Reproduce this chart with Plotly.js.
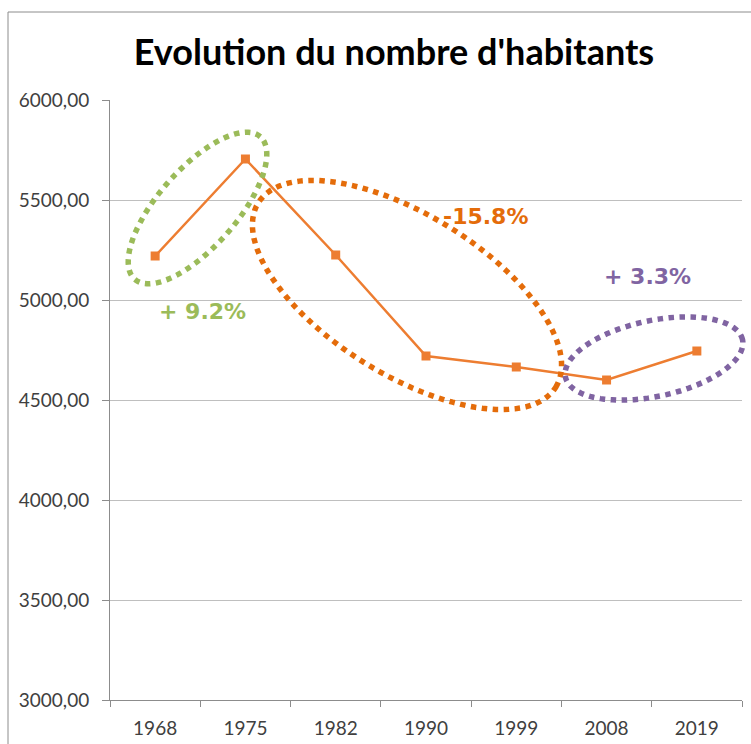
<!DOCTYPE html>
<html>
<head>
<meta charset="utf-8">
<script src="https://cdn.plot.ly/plotly-3.0.1.min.js"></script>
<style>
  body { margin: 0; background: #fff; }
  #chart { width: 751px; height: 744px; }
</style>
</head>
<body>
<div id="chart"></div>
<script>
// data
var years = ['1968', '1975', '1982', '1990', '1999', '2008', '2019'];
var habitants = [5220, 5705, 5225, 4720, 4665, 4600, 4745];

// callout labels
var noteTexts = ['+ 9.2%', '-15.8%', '+ 3.3%'];
var noteColors = ['#9BBB59', '#E46C0A', '#8064A2'];

// plot area in pixels (used to place the dotted ellipses and labels)
var W = 751, H = 744;
var plotL = 110, plotR = 742, plotT = 100, plotB = 700;

function px2paperX(px) { return (px - plotL) / (plotR - plotL); }
function px2paperY(py) { return (plotB - py) / (plotB - plotT); }

// ellipse: centre x, centre y, half axes, tilt (deg, counterclockwise)
var ellipses = [
  { cx: 197.5, cy: 208, a: 95, b: 39, tilt: 48.6 },
  { cx: 407, cy: 295, a: 175, b: 80, tilt: -31.8 },
  { cx: 654, cy: 358.5, a: 90.5, b: 38, tilt: 11.9 }
];
var notePos = [[202, 311], [485, 216], [647, 276]];

function ellipsePath(e) {
  var t = e.tilt * Math.PI / 180, d = '';
  for (var k = 0; k <= 120; k++) {
    var u = k / 120 * 2 * Math.PI;
    var ex = e.a * Math.cos(u), ey = e.b * Math.sin(u);
    var x = e.cx + ex * Math.cos(t) - ey * Math.sin(t);
    var y = e.cy - (ex * Math.sin(t) + ey * Math.cos(t));
    d += (k === 0 ? 'M' : 'L') + px2paperX(x).toFixed(4) + ',' + px2paperY(y).toFixed(4);
  }
  return d + 'Z';
}

var shapes = [{
  type: 'rect', xref: 'paper', yref: 'paper',
  x0: px2paperX(8), x1: px2paperX(800), y0: px2paperY(800), y1: px2paperY(12),
  line: { color: '#8c8c8c', width: 1 }, fillcolor: 'rgba(0,0,0,0)', layer: 'below'
}];
var annotations = [];
for (var i = 0; i < ellipses.length; i++) {
  shapes.push({
    type: 'path', xref: 'paper', yref: 'paper',
    path: ellipsePath(ellipses[i]),
    line: { color: noteColors[i], width: 5.5, dash: 'dot' }
  });
  annotations.push({
    xref: 'paper', yref: 'paper',
    x: px2paperX(notePos[i][0]), y: px2paperY(notePos[i][1]),
    xanchor: 'center', yanchor: 'middle',
    text: '<b>' + noteTexts[i] + '</b>', showarrow: false,
    font: { family: 'DejaVu Sans', size: 22, color: noteColors[i] }
  });
}

var traces = [{
  x: years,
  y: habitants,
  type: 'scatter',
  mode: 'lines+markers',
  line: { color: '#ED7D31', width: 2.5 },
  marker: { color: '#ED7D31', symbol: 'square', size: 9 },
  cliponaxis: false
}];

var layout = {
  width: W,
  height: H,
  separators: ', ',
  paper_bgcolor: '#ffffff',
  plot_bgcolor: '#ffffff',
  showlegend: false,
  font: { family: 'Lato', color: '#404040', size: 19 },
  title: {
    text: "<b>Evolution du nombre d'habitants</b>",
    font: { family: 'Lato', size: 36, color: '#000000' },
    xref: 'container', x: 394 / W, xanchor: 'center',
    yref: 'container', y: 1 - 52 / H, yanchor: 'middle'
  },
  margin: { l: plotL, r: W - plotR, t: plotT, b: H - plotB },
  xaxis: {
    type: 'category',
    range: [-0.5, 6.5],
    tickson: 'boundaries',
    ticks: 'outside', ticklen: 6, tickcolor: '#8c8c8c',
    showline: true, linecolor: '#8c8c8c', linewidth: 1,
    showgrid: false, zeroline: false,
    ticklabelstandoff: 11,
    tickfont: { family: 'Lato', size: 19, color: '#404040' }
  },
  yaxis: {
    range: [3000, 6000],
    dtick: 500,
    tickformat: '.2f',
    ticks: 'outside', ticklen: 7, tickcolor: '#8c8c8c',
    showline: true, linecolor: '#8c8c8c', linewidth: 1,
    gridcolor: '#bfbfbf', gridwidth: 1, zeroline: false,
    ticklabelstandoff: 9,
    tickfont: { family: 'Lato', size: 19, color: '#404040' }
  },
  shapes: shapes,
  annotations: annotations
};

Plotly.newPlot('chart', traces, layout, { staticPlot: true });
</script>
</body>
</html>
